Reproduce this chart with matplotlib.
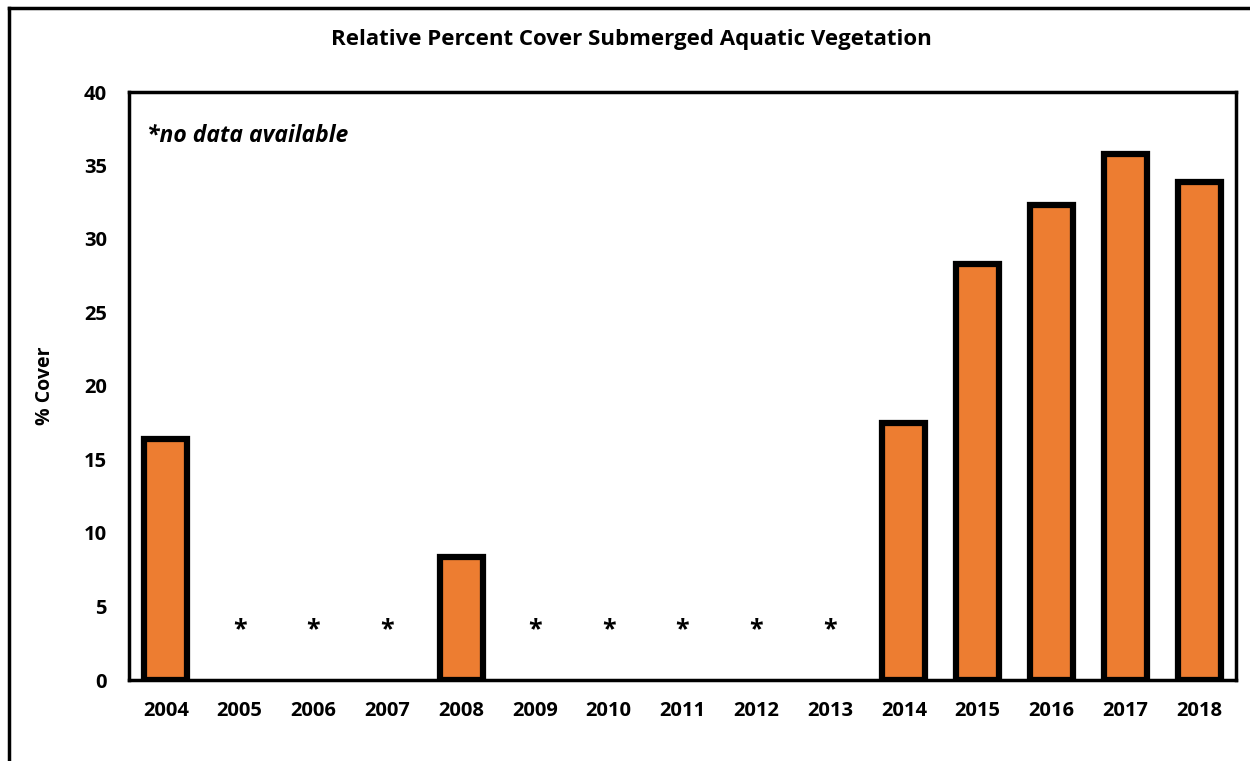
import matplotlib.pyplot as plt
import numpy as np

# Data
years = ['2004', '2005', '2006', '2007', '2008', '2009', '2010', '2011',
         '2012', '2013', '2014', '2015', '2016', '2017', '2018']
cover = [16.4, None, None, None, 8.4, None, None, None, None, None,
         17.5, 28.3, 32.3, 35.8, 33.9]
star_level = 3.4

plt.rcParams['font.family'] = ['Open Sans', 'DejaVu Sans']

fig = plt.figure(figsize=(12.5, 7.61), dpi=100)
ax = fig.add_axes([129 / 1250, 1 - 680 / 761, (1236 - 129) / 1250, (680 - 92) / 761])

x = np.arange(len(years))
for xi, v in zip(x, cover):
    if v is None:
        ax.text(xi, star_level, '*', ha='center', va='center',
                fontsize=18, fontweight='bold')
    else:
        ax.bar(xi, v, width=0.58, color='#ED7D31', edgecolor='black',
               linewidth=4.5, zorder=3)

ax.set_xlim(-0.5, len(years) - 0.5)
ax.set_ylim(0, 40)
ax.set_yticks(range(0, 41, 5))
ax.set_xticks(x)
ax.set_xticklabels(years)
ax.tick_params(length=0, labelsize=14.5)
ax.tick_params(axis='x', pad=15)
ax.tick_params(axis='y', pad=16)
for lbl in ax.get_xticklabels() + ax.get_yticklabels():
    lbl.set_fontweight('bold')

for s in ax.spines.values():
    s.set_linewidth(2.5)

ax.set_ylabel('% Cover', fontsize=14, fontweight='bold')
ax.yaxis.set_label_coords((55 - 129) / 1107, 0.5)
ax.text(0.016, 0.925, '*no data available', transform=ax.transAxes,
        fontsize=16.5, fontweight='bold', style='italic', va='center')

fig.text(631 / 1250, 1 - 40 / 761, 'Relative Percent Cover Submerged Aquatic Vegetation',
         ha='center', va='center', fontsize=16, fontweight='bold')

# outer chart border
fig.add_artist(plt.Line2D([9 / 1250, 9 / 1250], [0, 1 - 8 / 761],
                          transform=fig.transFigure, color='black', lw=2.5))
fig.add_artist(plt.Line2D([9 / 1250, 1], [1 - 8 / 761, 1 - 8 / 761],
                          transform=fig.transFigure, color='black', lw=2.5))

fig.savefig('out.png', dpi=100)
